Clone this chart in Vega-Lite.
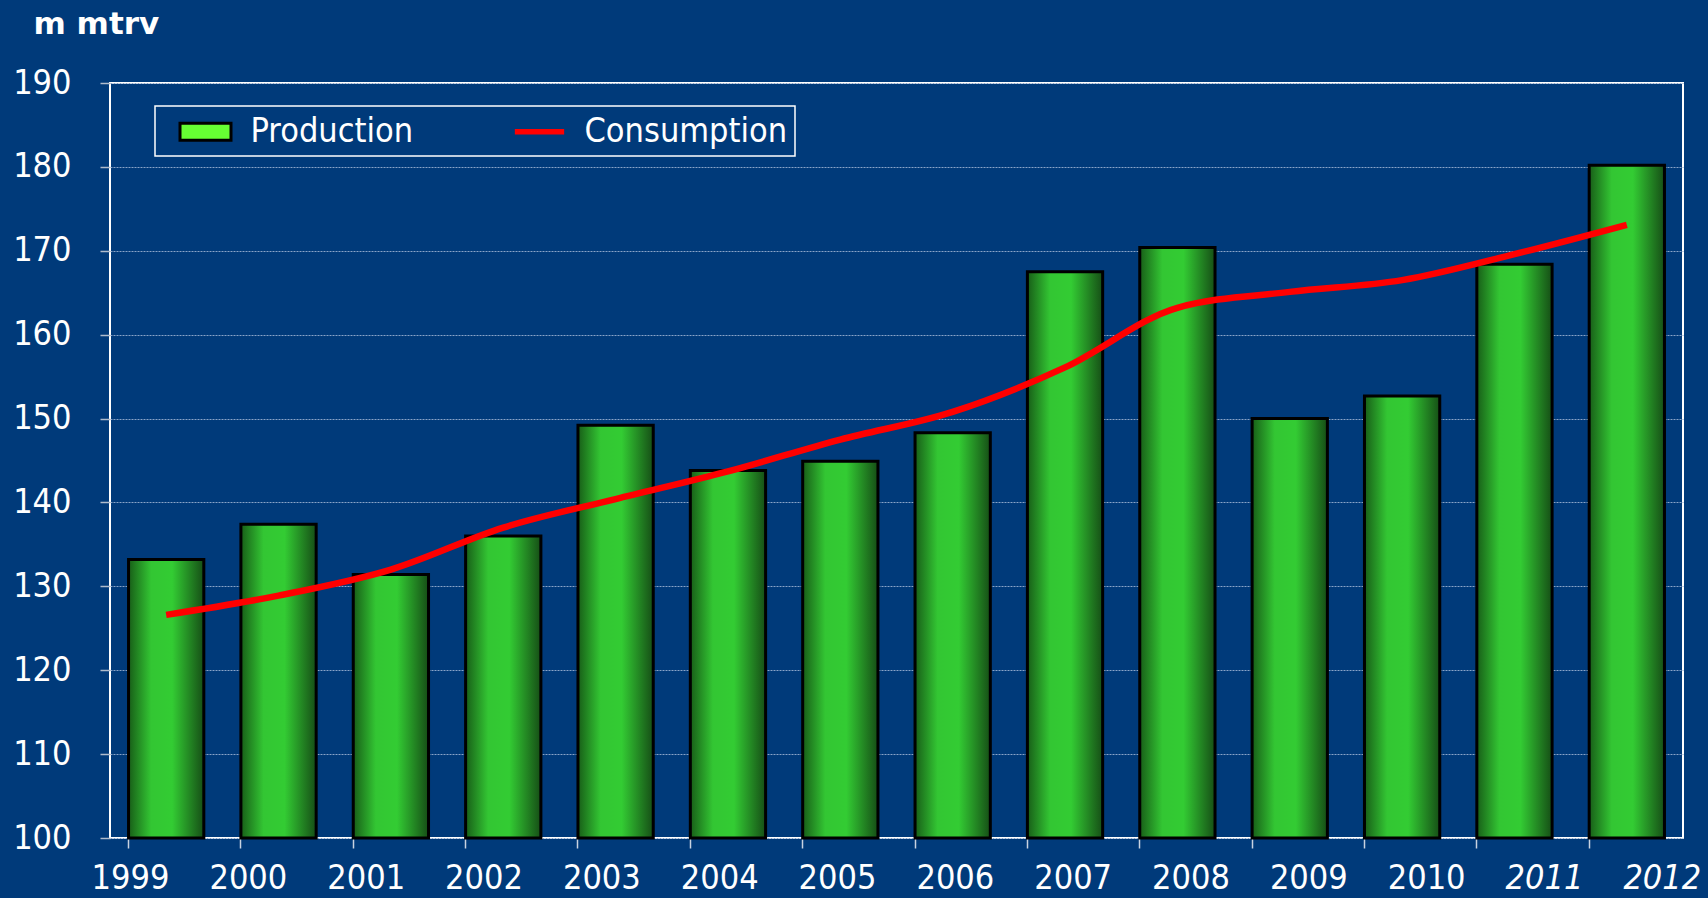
{
  "$schema": "https://vega.github.io/schema/vega-lite/v6.json",
  "width": 1573,
  "height": 755,
  "autosize": "none",
  "padding": {"left": 110, "top": 83, "right": 25, "bottom": 60},
  "background": "#003a7a",
  "config": {
    "view": {"stroke": "#ffffff", "strokeWidth": 2},
    "axis": {"labelFont": "DejaVu Sans Condensed", "labelColor": "#ffffff", "labelFontSize": 34},
    "legend": {
      "orient": "none", "legendX": 45, "legendY": 23, "direction": "horizontal",
      "strokeColor": "#ffffff", "strokeWidth": 1.5, "padding": 7,
      "labelColor": "#ffffff", "labelFont": "DejaVu Sans Condensed", "labelFontSize": 34, "labelLimit": 600,
      "symbolSize": 1156, "symbolOffset": 25, "labelOffset": 26.5, "columnPadding": 82,
      "symbolOpacity": 1, "symbolStrokeWidth": 3
    }
  },
  "data": {"values": [
    {"year": 1999, "Production": 133.2, "Consumption": 126.6},
    {"year": 2000, "Production": 137.4, "Consumption": 128.9},
    {"year": 2001, "Production": 131.4, "Consumption": 132.0},
    {"year": 2002, "Production": 136.0, "Consumption": 137.0},
    {"year": 2003, "Production": 149.2, "Consumption": 140.4},
    {"year": 2004, "Production": 143.8, "Consumption": 143.7},
    {"year": 2005, "Production": 144.9, "Consumption": 147.5},
    {"year": 2006, "Production": 148.3, "Consumption": 150.8},
    {"year": 2007, "Production": 167.5, "Consumption": 156.1},
    {"year": 2008, "Production": 170.4, "Consumption": 163.2},
    {"year": 2009, "Production": 150.0, "Consumption": 165.1},
    {"year": 2010, "Production": 152.7, "Consumption": 166.5},
    {"year": 2011, "Production": 168.4, "Consumption": 169.6},
    {"year": 2012, "Production": 180.2, "Consumption": 173.1}
  ]},
  "layer": [
    {
      "layer": [
        {
          "mark": {
            "type": "bar",
            "fill": {"gradient": "linear", "x1": 0, "y1": 0, "x2": 1, "y2": 0, "stops": [
              {"offset": 0, "color": "#185e18"},
              {"offset": 0.3, "color": "#33c633"},
              {"offset": 0.58, "color": "#33cc33"},
              {"offset": 1, "color": "#164e16"}
            ]},
            "stroke": "#000000", "strokeWidth": 3
          },
          "encoding": {
            "x": {"field": "year", "type": "ordinal",
              "scale": {"type": "band", "paddingInner": 0.33, "paddingOuter": 0.165},
              "axis": {"bandPosition": 0, "labels": false, "domain": false, "ticks": true, "tickColor": "#c8d2e0", "tickSize": 10, "tickWidth": 1.5, "title": null, "grid": false}},
            "y": {"field": "Production", "type": "quantitative", "title": "m mtrv",
              "scale": {"domain": [100, 190], "nice": false, "zero": false},
              "axis": {"values": [100, 110, 120, 130, 140, 150, 160, 170, 180, 190], "domain": false,
                "tickColor": "#b0bccc", "tickSize": 10, "tickWidth": 1.5, "labelPadding": 29,
                "grid": true, "gridColor": "#8aa4c8", "gridDash": [2, 1], "gridWidth": 1,
                "titleAngle": 0, "titleAlign": "left", "titleBaseline": "middle", "titleX": -77, "titleY": -59,
                "titleFont": "DejaVu Sans", "titleFontWeight": "bold", "titleFontSize": 31, "titleColor": "#ffffff"}},
            "y2": {"datum": 100}
          }
        },
        {
          "mark": {"type": "line", "color": "#ff0000", "strokeWidth": 6.5, "interpolate": "monotone"},
          "encoding": {
            "x": {"field": "year", "type": "ordinal"},
            "y": {"field": "Consumption", "type": "quantitative", "title": "m mtrv"}
          }
        }
      ]
    },
    {
      "transform": [{"fold": ["Production", "Consumption"], "as": ["series", "value"]}],
      "mark": {"type": "point", "opacity": 0, "filled": true},
      "encoding": {
        "x": {"field": "year", "type": "quantitative",
          "scale": {"domain": [1998.83, 2012.18], "nice": false, "zero": false},
          "axis": {"orient": "bottom", "values": [1999, 2000, 2001, 2002, 2003, 2004, 2005, 2006, 2007, 2008, 2009, 2010, 2011, 2012],
            "format": "d", "ticks": false, "tickSize": 0, "domain": false, "grid": false, "title": null, "labelPadding": 23.5,
            "labelFontStyle": {"condition": {"test": "datum.value >= 2011", "value": "italic"}, "value": "normal"}}},
        "y": {"field": "value", "type": "quantitative", "title": "m mtrv"},
        "color": {"field": "series", "type": "nominal",
          "scale": {"domain": ["Production", "Consumption"], "range": ["#66ff33", "#ff0000"]},
          "legend": {"title": null,
            "encode": {"symbols": {"update": {
              "fill": [{"test": "datum.value === 'Production'", "value": {"gradient": "linear", "x1": 0, "y1": 0, "x2": 1, "y2": 0, "stops": [
                {"offset": 0, "color": "#3d9a1f"}, {"offset": 0.5, "color": "#66ff33"}, {"offset": 1, "color": "#3a8f1c"}]}}, {"value": "#ff0000"}],
              "stroke": [{"test": "datum.value === 'Production'", "value": "#000000"}, {"value": "transparent"}],
              "opacity": {"value": 1}
            }}}}},
        "shape": {"field": "series", "type": "nominal",
          "scale": {"domain": ["Production", "Consumption"], "range": ["M-1.5,-0.5H1.5V0.5H-1.5Z", "M-1.45,-0.16H1.45V0.16H-1.45Z"]},
          "legend": {"title": null}}
      }
    }
  ],
  "resolve": {"scale": {"x": "independent"}, "axis": {"x": "independent"}}
}
